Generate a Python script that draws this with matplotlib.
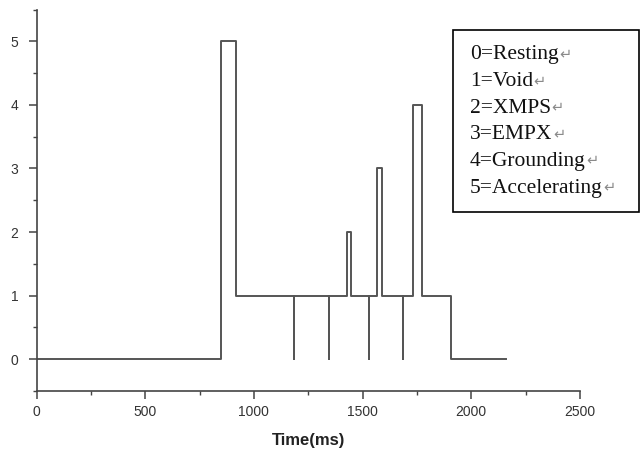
import matplotlib
matplotlib.use("Agg")
import matplotlib.pyplot as plt
from matplotlib.patches import Rectangle
from matplotlib.ticker import MultipleLocator

# Step data: state value held from each time until the next
times = [0, 850, 918, 1184, 1184, 1347, 1347, 1427, 1447, 1530, 1530,
         1565, 1588, 1687, 1687, 1733, 1772, 1905, 2160]
states = [0, 5, 1, 0, 1, 0, 1, 2, 1, 0, 1, 3, 1, 0, 1, 4, 1, 0, 0]

legend_lines = ["0=Resting", "1=Void", "2=XMPS", "3=EMPX",
                "4=Grounding", "5=Accelerating"]
xlabel = "Time(ms)"

fig = plt.figure(figsize=(6.41, 4.55), dpi=100)
ax = fig.add_axes([36.5 / 641, 1 - 391 / 455, (580 - 36.5) / 641, (391 - 9.5) / 455])

ax.plot(times, states, drawstyle="steps-post", color="#555555", lw=1.4)

ax.set_xlim(0, 2500)
ax.set_ylim(-0.5, 5.5)
ax.xaxis.set_major_locator(MultipleLocator(500))
ax.xaxis.set_minor_locator(MultipleLocator(250))
ax.yaxis.set_major_locator(MultipleLocator(1))
ax.yaxis.set_minor_locator(MultipleLocator(0.5))

for s in ("top", "right"):
    ax.spines[s].set_visible(False)
for s in ("left", "bottom"):
    ax.spines[s].set_color("#444444")
    ax.spines[s].set_linewidth(1.2)

ax.tick_params(which="major", length=6, width=1.1, color="#444444",
               labelsize=10, labelcolor="#333333", pad=4)
ax.tick_params(axis="y", which="major", pad=7)
ax.tick_params(which="minor", length=3, width=1.0, color="#444444")
for lab in ax.get_xticklabels() + ax.get_yticklabels():
    lab.set_fontfamily("Liberation Sans")

ax.set_xlabel(xlabel, fontsize=12, fontweight="bold", family="Liberation Sans",
              color="#222222", labelpad=10)

# Legend box in figure coordinates
x0, x1 = 453 / 641, 639 / 641
y0, y1 = 1 - 212 / 455, 1 - 30 / 455
fig.patches.append(Rectangle((x0, y0), x1 - x0, y1 - y0, transform=fig.transFigure,
                             fill=False, edgecolor="black", lw=1.2))
renderer = fig.canvas.get_renderer()
for i, t in enumerate(legend_lines):
    ypix = 55 + i * 26.6
    txt = fig.text(470 / 641, 1 - ypix / 455, t, fontsize=15.5,
                   family="Liberation Serif", color="#111111",
                   va="center", ha="left")
    bb = txt.get_window_extent(renderer)
    fig.text((bb.x1 + 0.5) / 641, 1 - (ypix - 1) / 455, "\u21b5", fontsize=10.5,
             family="DejaVu Sans", color="#8a8a8a", va="center", ha="left")

fig.savefig("out.png", dpi=100)
